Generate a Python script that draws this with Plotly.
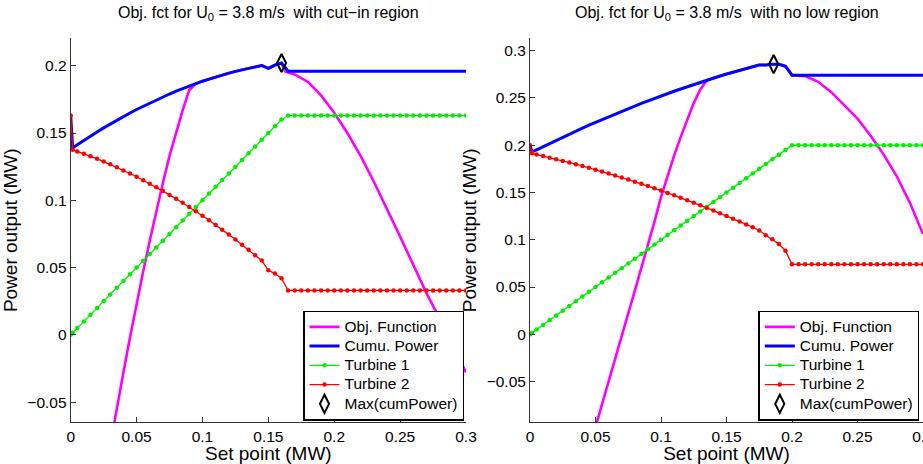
import plotly.graph_objects as go

# ---------------- data ----------------
set_point = [0, 0.0015, 0.005, 0.01, 0.015, 0.02, 0.025, 0.03, 0.035, 0.04, 0.045,
             0.05, 0.055, 0.06, 0.065, 0.07, 0.075, 0.08, 0.085, 0.09, 0.095,
             0.1, 0.105, 0.11, 0.115, 0.12, 0.125, 0.13, 0.135, 0.14, 0.145,
             0.15, 0.155, 0.16, 0.165, 0.17, 0.175, 0.18, 0.185, 0.19, 0.195,
             0.2, 0.205, 0.21, 0.215, 0.22, 0.225, 0.23, 0.235, 0.24, 0.245,
             0.25, 0.255, 0.26, 0.265, 0.27, 0.275, 0.28, 0.285, 0.29, 0.295, 0.3]

# Left panel: with cut-in region
t1_cutin = [0, 0.0015, 0.005, 0.01, 0.015, 0.02, 0.025, 0.03, 0.035, 0.04, 0.045,
            0.05, 0.055, 0.06, 0.065, 0.07, 0.075, 0.08, 0.085, 0.09, 0.095,
            0.1, 0.105, 0.11, 0.115, 0.12, 0.125, 0.13, 0.135, 0.14, 0.145,
            0.15, 0.155, 0.16, 0.163, 0.163, 0.163, 0.163, 0.163, 0.163, 0.163,
            0.163, 0.163, 0.163, 0.163, 0.163, 0.163, 0.163, 0.163, 0.163, 0.163,
            0.163, 0.163, 0.163, 0.163, 0.163, 0.163, 0.163, 0.163, 0.163, 0.163, 0.163]
t2_cutin = [0.163, 0.1375, 0.1363, 0.1346, 0.1327, 0.1308, 0.1288, 0.1267, 0.1245, 0.1222, 0.1199,
            0.1175, 0.1149, 0.1123, 0.1097, 0.1069, 0.1040, 0.1011, 0.0981, 0.0950, 0.0918,
            0.0885, 0.0851, 0.0817, 0.0781, 0.0745, 0.0708, 0.0670, 0.0632, 0.0592, 0.0552,
            0.0480, 0.0455, 0.0420, 0.033, 0.033, 0.033, 0.033, 0.033, 0.033, 0.033,
            0.033, 0.033, 0.033, 0.033, 0.033, 0.033, 0.033, 0.033, 0.033, 0.033,
            0.033, 0.033, 0.033, 0.033, 0.033, 0.033, 0.033, 0.033, 0.033, 0.033, 0.033]
cum_cutin = [a + b for a, b in zip(t1_cutin, t2_cutin)]
obj_x_cutin = [0.03, 0.035, 0.04, 0.045, 0.05, 0.055, 0.06, 0.065, 0.07, 0.075, 0.08,
               0.085, 0.09, 0.095, 0.1, 0.11, 0.12, 0.13, 0.14, 0.145, 0.15, 0.155,
               0.16, 0.163, 0.17, 0.18, 0.19, 0.2, 0.21, 0.22, 0.23, 0.24, 0.25,
               0.26, 0.27, 0.28, 0.29, 0.3]
obj_cutin = [-0.082, -0.054, -0.028, -0.002, 0.023, 0.047, 0.070, 0.092, 0.113, 0.133, 0.151,
             0.167, 0.182, 0.1868, 0.1885, 0.1917, 0.1945, 0.197, 0.1992, 0.2002, 0.198, 0.2005,
             0.202, 0.1956, 0.1935, 0.188, 0.178, 0.165, 0.150, 0.133, 0.114, 0.094, 0.073,
             0.052, 0.031, 0.012, -0.008, -0.028]
max_cutin_x = [0.16]
max_cutin_y = [0.202]

# Right panel: with no low region
t1_nolow = [0, 0.0015, 0.005, 0.01, 0.015, 0.02, 0.025, 0.03, 0.035, 0.04, 0.045,
            0.05, 0.055, 0.06, 0.065, 0.07, 0.075, 0.08, 0.085, 0.09, 0.095,
            0.1, 0.105, 0.11, 0.115, 0.12, 0.125, 0.13, 0.135, 0.14, 0.145,
            0.15, 0.155, 0.16, 0.165, 0.17, 0.175, 0.18, 0.185, 0.19, 0.195,
            0.2, 0.2, 0.2, 0.2, 0.2, 0.2, 0.2, 0.2, 0.2, 0.2,
            0.2, 0.2, 0.2, 0.2, 0.2, 0.2, 0.2, 0.2, 0.2, 0.2, 0.2]
t2_nolow = [0.2, 0.1915, 0.1901, 0.1885, 0.1868, 0.1852, 0.1834, 0.1817, 0.1799, 0.1780, 0.1761,
            0.1741, 0.1721, 0.1701, 0.1680, 0.1658, 0.1636, 0.1614, 0.1591, 0.1568, 0.1544,
            0.1520, 0.1495, 0.1470, 0.1444, 0.1418, 0.1392, 0.1365, 0.1337, 0.1309, 0.1281,
            0.1252, 0.1222, 0.1193, 0.1162, 0.1132, 0.1098, 0.1047, 0.1005, 0.0955, 0.0885,
            0.074, 0.074, 0.074, 0.074, 0.074, 0.074, 0.074, 0.074, 0.074, 0.074,
            0.074, 0.074, 0.074, 0.074, 0.074, 0.074, 0.074, 0.074, 0.074, 0.074, 0.074]
cum_nolow = [a + b for a, b in zip(t1_nolow, t2_nolow)]
obj_x_nolow = [0.045, 0.05, 0.055, 0.06, 0.065, 0.07, 0.075, 0.08, 0.085, 0.09, 0.095,
               0.1, 0.105, 0.11, 0.115, 0.12, 0.125, 0.13, 0.135, 0.14, 0.145,
               0.15, 0.155, 0.16, 0.165, 0.17, 0.175, 0.18, 0.185, 0.19, 0.195,
               0.2, 0.21, 0.22, 0.23, 0.24, 0.25, 0.26, 0.27, 0.28, 0.29, 0.3]
obj_nolow = [-0.122, -0.0975, -0.0735, -0.0495, -0.0257, -0.0017, 0.0222, 0.0460, 0.0695, 0.0927, 0.119,
             0.145, 0.168, 0.189, 0.2085, 0.2275, 0.2445, 0.259, 0.2687, 0.2709, 0.2731,
             0.2752, 0.2772, 0.2793, 0.2812, 0.2832, 0.285, 0.2847, 0.2855, 0.2855, 0.2835,
             0.274, 0.273, 0.267, 0.256, 0.242, 0.228, 0.21, 0.19, 0.167, 0.139, 0.106]
max_nolow_x = [0.186]
max_nolow_y = [0.2857]

titles = ["Obj. fct for U<sub>0</sub> = 3.8 m/s\u00a0\u00a0with cut\u2212in region",
          "Obj. fct for U<sub>0</sub> = 3.8 m/s\u00a0\u00a0with no low region"]
names = ["Obj. Function", "Cumu. Power", "Turbine 1", "Turbine 2", "Max(cumPower)"]
x_ticks = [0, 0.05, 0.1, 0.15, 0.2, 0.25, 0.3]
y_ticks_cutin = [-0.05, 0, 0.05, 0.1, 0.15, 0.2]
y_ticks_nolow = [-0.05, 0, 0.05, 0.1, 0.15, 0.2, 0.25, 0.3]

FONT = "Liberation Sans, Arial, Helvetica, sans-serif"


def lg_name(s):
    return '<span style="font-size:15.5px">' + s + '</span>'


fig = go.Figure()

panels = [
    (obj_x_cutin, obj_cutin, cum_cutin, t1_cutin, t2_cutin, max_cutin_x, max_cutin_y, "x", "y", "legend"),
    (obj_x_nolow, obj_nolow, cum_nolow, t1_nolow, t2_nolow, max_nolow_x, max_nolow_y, "x2", "y2", "legend2"),
]
for ox, oy, cum, t1, t2, mx, my, xa, ya, lg in panels:
    fig.add_trace(go.Scatter(x=ox, y=oy, mode="lines", name=lg_name(names[0]),
                             line=dict(color="#ff00ff", width=2.6), xaxis=xa, yaxis=ya, legend=lg))
    fig.add_trace(go.Scatter(x=set_point, y=cum, mode="lines", name=lg_name(names[1]),
                             line=dict(color="#0000ff", width=3), xaxis=xa, yaxis=ya, legend=lg))
    fig.add_trace(go.Scatter(x=set_point, y=t1, mode="lines+markers", name=lg_name(names[2]),
                             line=dict(color="#00ee00", width=1.3),
                             marker=dict(color="#00ee00", size=4.5), xaxis=xa, yaxis=ya, legend=lg))
    fig.add_trace(go.Scatter(x=set_point, y=t2, mode="lines+markers", name=lg_name(names[3]),
                             line=dict(color="#ff0000", width=1.3),
                             marker=dict(color="#ff0000", size=4.5), xaxis=xa, yaxis=ya, legend=lg))
    fig.add_trace(go.Scatter(x=mx, y=my, mode="markers", name=lg_name(names[4]),
                             marker=dict(symbol="diamond-tall-open", color="black", size=13,
                                         line=dict(width=2, color="black")),
                             xaxis=xa, yaxis=ya, legend=lg))

W, H = 923, 464
xd1 = [70.7 / W, 466 / W]
xd2 = [530 / W, 1.0]
yd = [1 - 422.3 / H, 1 - 38.3 / H]

axis_common = dict(showline=True, linecolor="#333333", linewidth=1, ticks="inside", ticklen=5,
                   tickcolor="#333333", showgrid=False, zeroline=False, mirror=False,
                   automargin=False, ticklabeloverflow="allow",
                   tickfont=dict(size=15.5, color="black", family=FONT))

fig.update_layout(
    width=W, height=H,
    margin=dict(l=0, r=0, t=0, b=0),
    paper_bgcolor="white", plot_bgcolor="white",
    font=dict(family=FONT, size=16, color="black"),
    xaxis=dict(domain=xd1, range=[0, 0.3], tickvals=x_ticks,
               anchor="y", title=dict(text="Set point (MW)", standoff=4), **axis_common),
    yaxis=dict(domain=yd, range=[-0.065, 0.2204], tickvals=y_ticks_cutin,
               anchor="x", title=dict(text="Power output (MW)", standoff=5), **axis_common),
    xaxis2=dict(domain=xd2, range=[0, 0.3], tickvals=x_ticks,
                anchor="y2", title=dict(text="Set point (MW)", standoff=4), **axis_common),
    yaxis2=dict(domain=yd, range=[-0.093, 0.313], tickvals=y_ticks_nolow,
                anchor="x2", title=dict(text="Power output (MW)", standoff=5), **axis_common),
    legend=dict(x=464 / W, y=1 - 420.7 / H, xanchor="right", yanchor="bottom",
                bgcolor="white", bordercolor="black", borderwidth=1.5,
                font=dict(size=12.5, family=FONT), tracegroupgap=0),
    legend2=dict(x=919.3 / W, y=1 - 420.7 / H, xanchor="right", yanchor="bottom",
                 bgcolor="white", bordercolor="black", borderwidth=1.5,
                 font=dict(size=12.5, family=FONT), tracegroupgap=0),
    annotations=[
        dict(text=titles[0], x=(xd1[0] + xd1[1]) / 2, y=1 - 13 / H, xref="paper", yref="paper",
             xanchor="center", yanchor="middle", showarrow=False, font=dict(size=16, family=FONT)),
        dict(text=titles[1], x=(xd2[0] + xd2[1]) / 2, y=1 - 13 / H, xref="paper", yref="paper",
             xanchor="center", yanchor="middle", showarrow=False, font=dict(size=16, family=FONT)),
    ],
)

fig.write_html("out.html")
